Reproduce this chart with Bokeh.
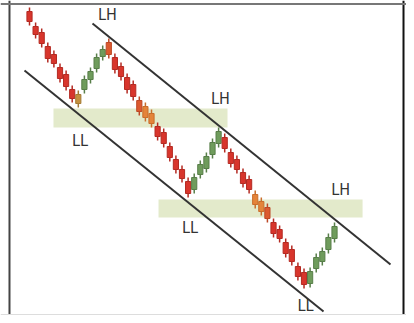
from bokeh.plotting import figure
from bokeh.models import Range1d, Span, ColumnDataSource
from bokeh.core.properties import value
from bokeh.embed import file_html
from bokeh.resources import INLINE

# ---- data (price units) ----
high = [323, 308, 302, 288, 280, 267, 260, 245, 240,
        255, 263, 277, 285,
        292, 277, 268, 257, 250, 234, 228, 221, 208, 202, 188, 175, 165, 153,
        157, 170, 178, 192, 203,
        197, 182, 175, 162, 155, 140, 133, 127, 112, 105, 92, 85, 68, 62,
        63, 77, 83, 97, 108]
low = [305, 292, 283, 268, 263, 248, 240, 228, 223,
       237, 247, 258, 270,
       272, 257, 250, 237, 230, 215, 209, 203, 190, 183, 169, 157, 148, 133,
       137, 152, 158, 172, 183,
       178, 163, 157, 143, 137, 122, 115, 108, 93, 88, 73, 65, 50, 42,
       43, 58, 65, 77, 88]
open_ = [319, 304, 298, 284, 276, 263, 256, 241, 236,
         241, 251, 262, 274,
         288, 273, 264, 253, 246, 230, 224, 217, 204, 198, 184, 171, 161, 149,
         141, 156, 162, 176, 187,
         193, 178, 171, 158, 151, 136, 129, 123, 108, 101, 88, 81, 64, 58,
         47, 62, 69, 81, 92]
close = [309, 296, 287, 272, 267, 252, 244, 232, 227,
         251, 259, 273, 281,
         276, 261, 254, 241, 234, 219, 213, 207, 194, 187, 173, 161, 152, 137,
         153, 166, 174, 188, 199,
         182, 167, 161, 147, 141, 126, 119, 112, 97, 92, 77, 69, 54, 46,
         59, 73, 79, 93, 104]
tone = (['r'] * 8 + ['og'] + ['g'] * 4 + ['ro'] + ['r'] * 4 + ['ro'] + ['o'] * 2
        + ['r'] * 6 + ['g'] * 5 + ['r'] * 5 + ['o'] * 2 + ['ro'] + ['r'] * 6 + ['g'] * 5)
idx = list(range(len(high)))

# channel lines (index, price)
upper_x = [10.33, 59.18]
upper_y = [307, 66]
lower_x = [-0.82, 48.2]
lower_y = [260, 19]

# highlighted zones
band_left = [3.93, 21.15]
band_right = [32.46, 54.6]
band_bottom = [203, 113]
band_top = [222, 131]

# swing labels
label_text = ["LH", "LL", "LH", "LL", "LH", "LL"]
label_x = [12.79, 8.28, 31.3, 26.3, 51.0, 45.25]
label_y = [316.5, 190.5, 232.5, 103.5, 141.5, 25.0]

# ---- styling ----
fill_map = {'r': '#d8352c', 'g': '#6f9c5c', 'o': '#e4843a', 'ro': '#dc5a2f', 'og': '#c4903e'}
edge_map = {'r': '#b42a22', 'g': '#587e49', 'o': '#c96e2c', 'ro': '#bd4826', 'og': '#a47a34'}

src = ColumnDataSource(dict(
    x=idx, high=high, low=low, open=open_, close=close,
    fill=[fill_map[t] for t in tone], edge=[edge_map[t] for t in tone],
))

p = figure(width=406, height=315, x_range=Range1d(-4.754, 61.80), y_range=Range1d(15, 330),
           output_backend="svg", toolbar_location=None, min_border=0,
           x_axis_type=None, y_axis_type=None)
p.grid.visible = False
p.outline_line_color = None
p.background_fill_color = "white"
p.border_fill_color = "white"

p.quad(left=band_left, right=band_right, bottom=band_bottom, top=band_top,
       fill_color="#e3eacb", line_color=None)

p.segment(x0='x', y0='low', x1='x', y1='high', source=src, line_color='edge', line_width=1.5)
p.vbar(x='x', width=0.85, top='open', bottom='close', source=src,
       fill_color='fill', line_color='edge', line_width=1)

p.line(upper_x, upper_y, line_color="#333333", line_width=2)
p.line(lower_x, lower_y, line_color="#333333", line_width=2)

p.text(x=label_x, y=label_y, text=label_text,
       text_font=value("Liberation Sans Narrow, DejaVu Sans Condensed, Liberation Sans, sans-serif"),
       text_font_size="16px", text_color="#333333",
       text_align="center", text_baseline="middle")

# frame around the picture
p.add_layout(Span(location=-3.28, dimension='height', line_color="#444444", line_width=2))
p.add_layout(Span(location=61.31, dimension='height', line_color="#111111", line_width=2))
p.add_layout(Span(location=326.5, dimension='width', line_color="#777777", line_width=2))
p.add_layout(Span(location=16, dimension='width', line_color="#dddddd", line_width=1))

open("out.html", "w").write(file_html(p, INLINE))
